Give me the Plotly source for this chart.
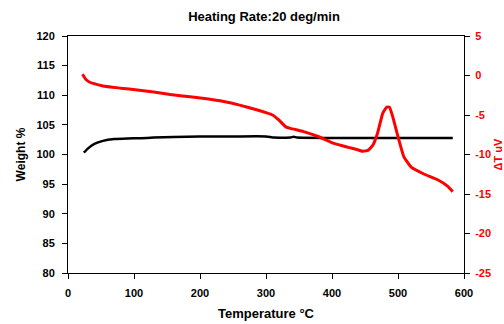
import plotly.graph_objects as go

# Weight % (left axis)
temp_w = [24, 30, 40, 53, 70, 90, 110, 130, 160, 200, 250, 300, 312, 337, 342, 347, 400, 450, 500, 550, 583]
weight = [100.3, 101.0, 101.8, 102.3, 102.6, 102.7, 102.75, 102.85, 102.95, 103.05, 103.05, 103.05, 102.85, 102.85, 103.0, 102.85, 102.8, 102.8, 102.8, 102.8, 102.8]

# Delta T uV (right axis)
temp_d = [22, 25, 28, 33, 38, 53, 80, 105, 130, 155, 185, 210, 236, 260, 287, 300, 310, 319, 330, 337, 357, 380, 403, 425, 439, 447, 455, 462, 469, 477, 483, 487, 492, 500, 509, 520, 540, 560, 575, 583]
dtemp = [0.15, -0.25, -0.57, -0.85, -1.0, -1.33, -1.6, -1.84, -2.1, -2.4, -2.7, -2.95, -3.3, -3.75, -4.37, -4.7, -5.0, -5.6, -6.5, -6.7, -7.1, -7.75, -8.6, -9.1, -9.4, -9.6, -9.45, -8.8, -7.3, -4.75, -4.0, -4.0, -5.2, -7.75, -10.3, -11.6, -12.5, -13.2, -14.0, -14.7]

x_ticks = [0, 100, 200, 300, 400, 500, 600]
y_ticks = [80, 85, 90, 95, 100, 105, 110, 115, 120]
y2_ticks = [-25, -20, -15, -10, -5, 0, 5]

font = dict(family="Liberation Sans, Arial", size=11, color="black")

fig = go.Figure()
fig.add_trace(go.Scatter(x=temp_w, y=weight, mode="lines", line=dict(color="black", width=2.5, shape="spline", smoothing=0.5), showlegend=False))
fig.add_trace(go.Scatter(x=temp_d, y=dtemp, mode="lines", yaxis="y2", line=dict(color="red", width=3, shape="spline", smoothing=0.4), showlegend=False))

fig.update_layout(
    width=504, height=324,
    margin=dict(l=68, r=40, t=36, b=51, autoexpand=False),
    paper_bgcolor="white", plot_bgcolor="white",
    font=font,
    title=dict(text="<b>Heating Rate:20 deg/min</b>", x=264/504, xanchor="center", y=1-16/324, yanchor="middle", font=dict(size=13, color="black")),
    xaxis=dict(range=[0, 600], tickvals=x_ticks, ticktext=[f"<b>{v}</b>" for v in x_ticks],
               showline=True, linecolor="black", linewidth=1, mirror=True, ticks="outside", ticklen=5, tickcolor="black",
               ticklabelstandoff=5, automargin=False,
               showgrid=False, zeroline=False),
    yaxis=dict(range=[80, 120], tickvals=y_ticks, ticktext=[f"<b>{v}</b>" for v in y_ticks],
               showline=True, linecolor="black", linewidth=1, ticks="outside", ticklen=5, tickcolor="black",
               ticklabelstandoff=5, automargin=False,
               showgrid=False, zeroline=False,
               title=dict(text="<b>Weight %</b>", standoff=8, font=dict(size=12))),
    yaxis2=dict(range=[-25, 5], tickvals=y2_ticks, ticktext=[f"<b>{v}</b>" for v in y2_ticks],
                overlaying="y", side="right",
                showline=True, linecolor="black", linewidth=1, ticks="outside", ticklen=5, tickcolor="black",
                ticklabelstandoff=3, automargin=False,
                showgrid=False, zeroline=False, tickfont=dict(color="red", size=11)),
)
fig.add_annotation(text="<b>Temperature °C</b>", xref="paper", yref="paper", x=0.5, y=0, yshift=-40,
                   xanchor="center", yanchor="middle", showarrow=False, font=dict(color="black", size=13))
fig.add_annotation(text="<b>ΔT uV</b>", xref="paper", yref="paper", x=1, xshift=33, y=0.5, xanchor="center", yanchor="middle",
                   textangle=-90, showarrow=False, font=dict(color="red", size=11))
fig.write_html("out.html")
